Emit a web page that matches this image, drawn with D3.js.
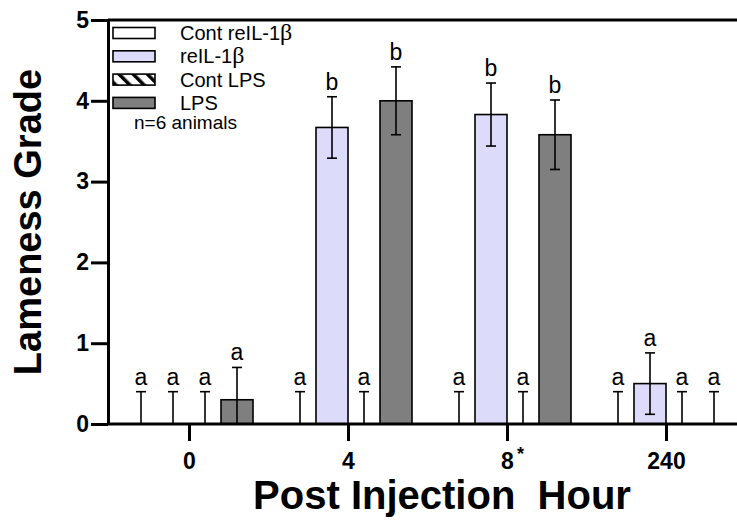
<!DOCTYPE html>
<html>
<head>
<meta charset="utf-8">
<script src="https://cdn.jsdelivr.net/npm/d3@7"></script>
<style>
  html, body { margin: 0; padding: 0; background: #fff; }
  svg { display: block; font-family: "Liberation Sans", Arial, sans-serif; }
</style>
</head>
<body>
<svg id="chart" width="737" height="520"></svg>
<script>
// Lameness grade by post-injection hour, four treatment groups
const hours = ["0", "4", "8", "240"];
const seriesNames = ["Cont reIL-1", "reIL-1", "Cont LPS", "LPS"];
const betaSuffix = [true, true, false, false];
const contIL = [0, 0, 0, 0];
const contILErr = [0.4, 0.4, 0.4, 0.4];
const reIL = [0, 3.67, 3.83, 0.5];
const reILErr = [0.4, 0.38, 0.39, 0.38];
const contLPS = [0, 0, 0, 0];
const contLPSErr = [0.4, 0.4, 0.4, 0.4];
const lps = [0.3, 4.0, 3.58, 0];
const lpsErr = [0.4, 0.42, 0.43, 0.4];
const letters = [
  ["a", "a", "a", "a"],
  ["a", "b", "a", "b"],
  ["a", "b", "a", "b"],
  ["a", "a", "a", "a"]
];
const yTicks = [0, 1, 2, 3, 4, 5];

const means = [contIL, reIL, contLPS, lps];
const errs = [contILErr, reILErr, contLPSErr, lpsErr];
const fills = ["#ffffff", "#dcdcfa", "url(#hatch)", "#7f7f7f"];
const FONT = "Liberation Sans, Arial, sans-serif";

const svg = d3.select("#chart");
const axisX = 108, right = 737;

const y = d3.scaleLinear().domain([0, 5]).range([424, 20]);
const xGroup = d3.scalePoint().domain(hours).range([189, 666]);
const xInner = d3.scaleBand().domain(d3.range(4)).range([-64, 64]).padding(0);

// diagonal hatch for the LPS control
const defs = svg.append("defs");
const pat = defs.append("pattern")
  .attr("id", "hatch").attr("patternUnits", "userSpaceOnUse")
  .attr("width", 10).attr("height", 10)
  .attr("patternTransform", "rotate(-45)");
pat.append("rect").attr("width", 10).attr("height", 10).attr("fill", "#fff");
pat.append("rect").attr("x", 0).attr("width", 3.5).attr("height", 10).attr("fill", "#000");

// rows of bar records
const rows = [];
hours.forEach((h, gi) => {
  means.forEach((s, si) => {
    rows.push({ h, gi, si, v: s[gi], e: errs[si][gi], letter: letters[gi][si] });
  });
});
const cx = d => xGroup(d.h) + xInner(d.si) + xInner.bandwidth() / 2;

// bars
svg.append("g").selectAll("rect").data(rows.filter(d => d.v > 0)).join("rect")
  .attr("x", d => xGroup(d.h) + xInner(d.si))
  .attr("y", d => y(d.v))
  .attr("width", xInner.bandwidth())
  .attr("height", d => y(0) - y(d.v))
  .attr("fill", d => fills[d.si])
  .attr("stroke", "#000").attr("stroke-width", 1.6);

// error bars
const eb = svg.append("g").attr("stroke", "#000").attr("stroke-width", 1.6);
rows.forEach(d => {
  const top = d.v + d.e;
  const lo = Math.max(0, d.v - d.e);
  const x = cx(d);
  eb.append("line").attr("x1", x).attr("x2", x).attr("y1", y(top)).attr("y2", y(lo));
  eb.append("line").attr("x1", x - 5).attr("x2", x + 5).attr("y1", y(top)).attr("y2", y(top));
  if (d.v > 0 && d.v - d.e > 0) {
    eb.append("line").attr("x1", x - 5).attr("x2", x + 5).attr("y1", y(lo)).attr("y2", y(lo));
  }
});

// significance letters
svg.append("g").selectAll("text").data(rows).join("text")
  .attr("x", cx)
  .attr("y", d => y(d.v + d.e) - 7)
  .attr("text-anchor", "middle")
  .attr("font-size", 23)
  .text(d => d.letter);

// top frame line at grade 5
svg.append("line").attr("x1", axisX).attr("x2", right).attr("y1", y(5)).attr("y2", y(5))
  .attr("stroke", "#000").attr("stroke-width", 3);

// y axis
const yAxis = svg.append("g").attr("transform", `translate(${axisX},0)`)
  .call(d3.axisLeft(y).tickValues(yTicks).tickSize(17).tickSizeOuter(0).tickFormat(d3.format("d")));
yAxis.select(".domain").attr("stroke-width", 3);
yAxis.selectAll(".tick line").attr("stroke-width", 3);
yAxis.selectAll(".tick text").attr("font-size", 23).attr("font-weight", "bold")
  .attr("font-family", FONT).attr("fill", "#000").attr("x", -19);

// x axis
const xAxis = svg.append("g").attr("transform", `translate(0,${y(0)})`)
  .call(d3.axisBottom(xGroup).tickSize(17).tickSizeOuter(0));
xAxis.select(".domain").attr("d", `M${axisX},0H${right}`).attr("stroke-width", 3);
xAxis.selectAll(".tick line").attr("stroke-width", 3);
xAxis.selectAll(".tick text").attr("font-size", 23).attr("font-weight", "bold")
  .attr("font-family", FONT).attr("fill", "#000").attr("y", 29);
xAxis.selectAll(".tick").filter(d => d === "8").append("text")
  .attr("x", 13).attr("y", 36).attr("font-size", 18).attr("font-weight", "bold")
  .attr("font-family", FONT).attr("fill", "#000").text("*");

// axis titles
svg.append("text").attr("transform", `translate(41,222) rotate(-90)`)
  .attr("text-anchor", "middle").attr("font-size", 38).attr("font-weight", "bold")
  .text("Lameness Grade");
svg.append("text").attr("x", 442).attr("y", 509)
  .attr("text-anchor", "middle").attr("font-size", 40).attr("font-weight", "bold")
  .attr("xml:space", "preserve").style("white-space", "pre")
  .text("Post Injection  Hour");

// legend
const leg = svg.append("g");
seriesNames.forEach((name, i) => {
  const yy = 33 + i * 23.3;
  leg.append("rect").attr("x", 113).attr("y", yy - 5.5).attr("width", 42).attr("height", 11)
    .attr("fill", fills[i]).attr("stroke", "#000").attr("stroke-width", 1.6);
  const t = leg.append("text").attr("x", 180).attr("y", yy + 7).attr("font-size", 20);
  t.append("tspan").text(name);
  if (betaSuffix[i]) t.append("tspan").attr("font-family", "Liberation Serif, serif")
    .attr("font-size", 24).text("β");
});
leg.append("text").attr("x", 134).attr("y", 129).attr("font-size", 19).text("n=6 animals");
</script>
</body>
</html>
